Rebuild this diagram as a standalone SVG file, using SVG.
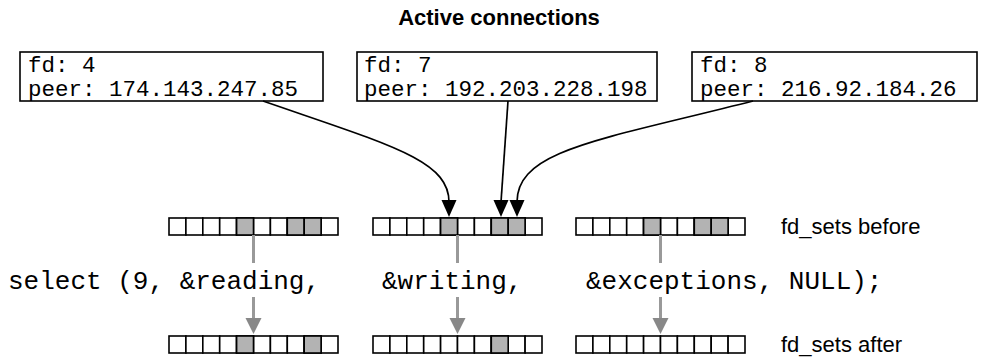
<svg xmlns="http://www.w3.org/2000/svg" width="997" height="359" viewBox="0 0 997 359">
<style>
.box{fill:#fff;stroke:#000;stroke-width:1.6}
.mono{font-family:"Liberation Mono","DejaVu Sans Mono",monospace;fill:#000}
.box-t{font-size:22.5px}
.sel{font-size:26px}
.sans{font-family:"Liberation Sans",Arial,sans-serif;fill:#000}
.c{fill:#fff;stroke:#000;stroke-width:1.6}
.g{fill:#b3b3b3;stroke:#000;stroke-width:1.6}
.bl{fill:none;stroke:#000;stroke-width:1.7}
.gl{fill:none;stroke:#999;stroke-width:3}
.gh{fill:#888}
.bh{fill:#000}
</style>
<defs>
<g id="cells">
<rect class="c" x="0" y="0" width="16.9" height="17"/>
<rect class="c" x="16.9" y="0" width="16.9" height="17"/>
<rect class="c" x="33.8" y="0" width="16.9" height="17"/>
<rect class="c" x="50.7" y="0" width="16.9" height="17"/>
<rect class="c" x="67.6" y="0" width="16.9" height="17"/>
<rect class="c" x="84.5" y="0" width="16.9" height="17"/>
<rect class="c" x="101.4" y="0" width="16.9" height="17"/>
<rect class="c" x="118.3" y="0" width="16.9" height="17"/>
<rect class="c" x="135.2" y="0" width="16.9" height="17"/>
<rect class="c" x="152.1" y="0" width="16.9" height="17"/>
</g>
</defs>

<text class="sans" x="499" y="25" font-size="22" font-weight="bold" text-anchor="middle">Active connections</text>

<g id="conn-fd4">
<rect class="box" x="20" y="52" width="303" height="49"/>
<text class="mono box-t" x="28" y="72">fd: 4</text>
<text class="mono box-t" x="28" y="96">peer: 174.143.247.85</text>
</g>
<g id="conn-fd7">
<rect class="box" x="357" y="52" width="300" height="49"/>
<text class="mono box-t" x="364" y="72">fd: 7</text>
<text class="mono box-t" x="364" y="96">peer: 192.203.228.198</text>
</g>
<g id="conn-fd8">
<rect class="box" x="692" y="52" width="285" height="49"/>
<text class="mono box-t" x="700" y="72">fd: 8</text>
<text class="mono box-t" x="700" y="96">peer: 216.92.184.26</text>
</g>

<g id="reading-before">
<use href="#cells" x="169" y="218"/>
<rect class="g" x="236.6" y="218" width="16.9" height="17"/>
<rect class="g" x="287.3" y="218" width="16.9" height="17"/>
<rect class="g" x="304.2" y="218" width="16.9" height="17"/>
</g>
<g id="writing-before">
<use href="#cells" x="373" y="218"/>
<rect class="g" x="440.6" y="218" width="16.9" height="17"/>
<rect class="g" x="491.3" y="218" width="16.9" height="17"/>
<rect class="g" x="508.2" y="218" width="16.9" height="17"/>
</g>
<g id="exceptions-before">
<use href="#cells" x="576" y="218"/>
<rect class="g" x="643.6" y="218" width="16.9" height="17"/>
<rect class="g" x="694.3" y="218" width="16.9" height="17"/>
<rect class="g" x="711.2" y="218" width="16.9" height="17"/>
</g>
<text class="sans" x="781" y="234" font-size="22">fd_sets before</text>

<g id="select-call">
<text class="mono sel" x="8" y="289">select (9, &amp;reading,</text>
<text class="mono sel" x="382" y="289">&amp;writing,</text>
<text class="mono sel" x="586" y="289">&amp;exceptions, NULL);</text>
</g>

<g id="reading-after">
<use href="#cells" x="169" y="336"/>
<rect class="g" x="236.6" y="336" width="16.9" height="17"/>
<rect class="g" x="304.2" y="336" width="16.9" height="17"/>
</g>
<g id="writing-after">
<use href="#cells" x="373" y="336"/>
<rect class="g" x="491.3" y="336" width="16.9" height="17"/>
</g>
<g id="exceptions-after">
<use href="#cells" x="576" y="336"/>
</g>
<text class="sans" x="781" y="352" font-size="22">fd_sets after</text>

<g id="connectors">
<path class="bl" d="M263,101 C390,145 449,160 449,202"/>
<polygon class="bh" points="441.5,200 456.5,200 449,217"/>
<path class="bl" d="M508,101 L501,202"/>
<polygon class="bh" points="493.5,200 508.5,200 501,217"/>
<path class="bl" d="M753,101 C600,140 517,150 517,202"/>
<polygon class="bh" points="509.5,200 524.5,200 517,217"/>

<path class="gl" d="M253.5,235 V263 M253.5,297 V320"/>
<polygon class="gh" points="245.5,318 261.5,318 253.5,334"/>
<path class="gl" d="M457.5,235 V263 M457.5,297 V320"/>
<polygon class="gh" points="449.5,318 465.5,318 457.5,334"/>
<path class="gl" d="M660.5,235 V263 M660.5,297 V320"/>
<polygon class="gh" points="652.5,318 668.5,318 660.5,334"/>
</g>
</svg>
